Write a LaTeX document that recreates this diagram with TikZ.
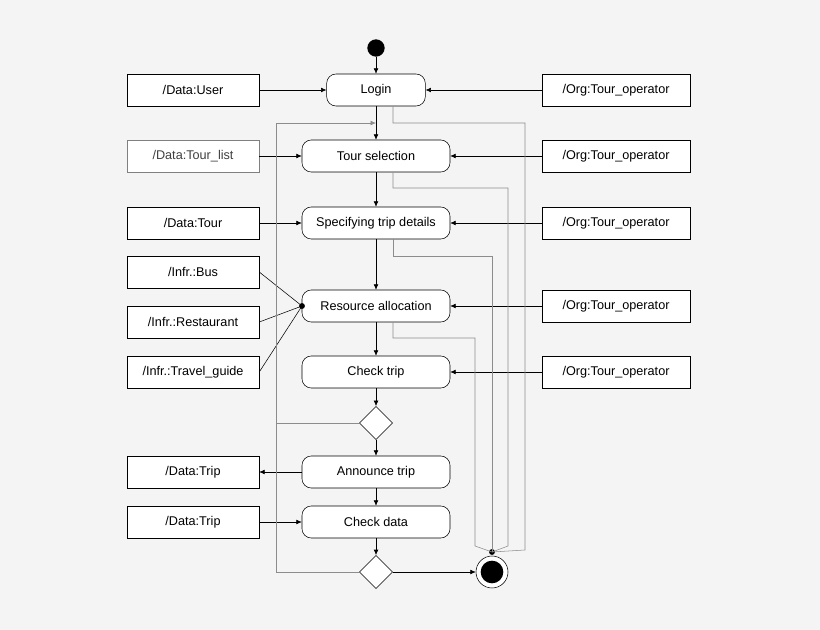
\documentclass[tikz,border=0pt]{standalone}
\usepackage{fontspec}
\setmainfont{Liberation Sans}
\usetikzlibrary{arrows.meta}
\usetikzlibrary{positioning,shapes.geometric}
\definecolor{bg}{RGB}{244,244,244}
\definecolor{loopgray}{RGB}{140,140,140}
\begin{document}
\begin{tikzpicture}[x=0.75pt,y=-0.75pt,font=\fontsize{9.5}{11}\selectfont,
    >={Latex[length=4pt,width=3.5pt]}]
    \fill[bg] (0,0) rectangle (820,630);
    \useasboundingbox (0,0) rectangle (820,630);

    % Add or remove nodes here, use the tuple for location
    \begin{scope}[every node/.style={draw,fill=white,rounded corners=7pt,minimum height=24pt,minimum width=111pt,thin}]
    \node (login) at (376,90) [minimum width=74pt] {Login};
    \node (tsel) at (376,156) {Tour selection};
    \node (spec) at (376,223) {Specifying trip details};
    \node (ralloc) at (376,306) {Resource allocation};
    \node (check) at (376,372) {Check trip};
    \node (announce) at (376,472) {Announce trip};
    \node (cdata) at (376,522) {Check data};
    \end{scope}

    \begin{scope}[every node/.style={draw,fill=white,minimum height=24pt,minimum width=99pt,thin}]
    \node (user) at (193,90) {/Data:User};
    \node[draw=gray,text=darkgray] (tlist) at (193,156) {/Data:Tour\_list};
    \node (tour) at (193,223) {/Data:Tour};
    \node (bus) at (193,272) {/Infr.:Bus};
    \node (rest) at (193,322) {/Infr.:Restaurant};
    \node (guide) at (193,372) {/Infr.:Travel\_guide};
    \node (trip1) at (193,472) {/Data:Trip};
    \node (trip2) at (193,522) {/Data:Trip};
    \end{scope}

    \begin{scope}[every node/.style={draw,fill=white,minimum height=24pt,minimum width=111pt,thin}]
    \node (op1) at (616,90) {/Org:Tour\_operator};
    \node (op2) at (616,156) {/Org:Tour\_operator};
    \node (op3) at (616,223) {/Org:Tour\_operator};
    \node (op4) at (616,306) {/Org:Tour\_operator};
    \node (op5) at (616,372) {/Org:Tour\_operator};
    \end{scope}

    \node[circle,fill=black,minimum size=13pt,inner sep=0pt] (start) at (376,48) {};
    \node[diamond,draw,fill=white,minimum size=25pt,inner sep=0pt] (dec1) at (376,423) {};
    \node[diamond,draw,fill=white,minimum size=25pt,inner sep=0pt] (dec2) at (376,572) {};
    \node[circle,draw,fill=white,minimum size=24pt,inner sep=0pt] (final) at (492,572) {};
    \fill (final) circle (8.5pt);
    \coordinate (join) at (492,552);
    \coordinate (res) at (302,306);
    \fill (res) circle (2.2pt);
    \fill (join) circle (2.2pt);

    % control flow
    \begin{scope}[every path/.style={draw,thin}]
    \path[->] (start) -- (login);
    \path[->] (login) -- (tsel);
    \path[->] (tsel) -- (spec);
    \path[->] (spec) -- (ralloc);
    \path[->] (ralloc) -- (check);
    \path[->] (check) -- (dec1);
    \path[->] (dec1) -- (announce);
    \path[->] (announce) -- (cdata);
    \path[->] (cdata) -- (dec2);
    \path[->] (dec2) -- (final);
    \end{scope}

    % object flows
    \draw[->] (user) -- (login);
    \draw[->] (tlist) -- (tsel);
    \draw[->] (tour) -- (spec);
    \draw[->] (announce) -- (trip1);
    \draw[->] (trip2) -- (cdata);
    \draw (bus.east) -- (res);
    \draw (rest.east) -- (res);
    \draw (guide.east) -- (res);
    \draw[->] (op1) -- (login);
    \draw[->] (op2) -- (tsel);
    \draw[->] (op3) -- (spec);
    \draw[->] (op4) -- (ralloc);
    \draw[->] (op5) -- (check);

    % aborts and loop back (gray)
    \begin{scope}[draw=loopgray]
    \draw[loopgray] (login.south -| 393,0) |- (525,123) -- (525,550) -- (join);
    \draw[loopgray] (tsel.south -| 393,0) |- (508,188) -- (508,546) -- (join);
    \draw[loopgray] (spec.south -| 393,0) |- (492,256) -- (join);
    \draw[loopgray] (ralloc.south -| 393,0) |- (475,338) -- (475,546) -- (join);
    \draw[loopgray] (dec1.west) -- (276,423);
    \draw[loopgray,->] (dec2.west) -| (276,123) -- (376,123);
    \end{scope}
\end{tikzpicture}
\end{document}
